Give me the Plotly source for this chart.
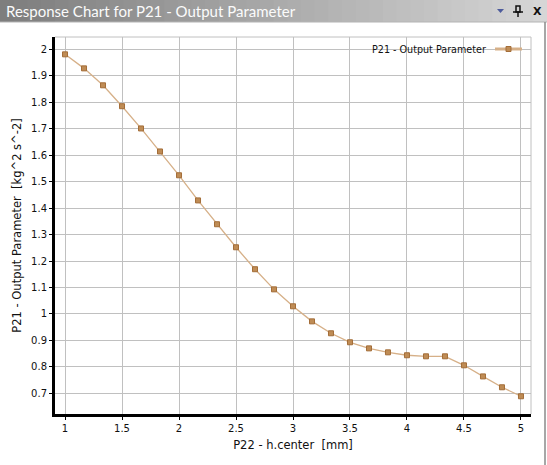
"""Response chart for P21 - Output Parameter versus P22 - h.center."""

import plotly.graph_objects as go

# ---- data ------------------------------------------------------------------------------------
h_center_mm = [
    1.0, 1.1667, 1.3333, 1.5, 1.6667, 1.8333, 2.0, 2.1667, 2.3333, 2.5,
    2.6667, 2.8333, 3.0, 3.1667, 3.3333, 3.5, 3.6667, 3.8333, 4.0, 4.1667,
    4.3333, 4.5, 4.6667, 4.8333, 5.0,
]
p21_output = [
    1.981, 1.928, 1.864, 1.785, 1.701, 1.614, 1.524, 1.429, 1.339, 1.252,
    1.169, 1.093, 1.029, 0.972, 0.927, 0.893, 0.870, 0.855, 0.844, 0.840,
    0.840, 0.806, 0.764, 0.723, 0.689,
]
x_ticks = [1, 1.5, 2, 2.5, 3, 3.5, 4, 4.5, 5]
x_tick_text = ["1", "1.5", "2", "2.5", "3", "3.5", "4", "4.5", "5"]
y_ticks = [0.7, 0.8, 0.9, 1.0, 1.1, 1.2, 1.3, 1.4, 1.5, 1.6, 1.7, 1.8, 1.9, 2.0]
y_tick_text = ["0.7", "0.8", "0.9", "1", "1.1", "1.2", "1.3", "1.4", "1.5",
               "1.6", "1.7", "1.8", "1.9", "2"]

series_name = "P21 - Output Parameter"
window_title = "Response Chart for P21 - Output Parameter"

W, H = 547, 465
ML, MR, MT, MB = 55, 16, 37, 51
LINE_COLOR = "#d6b088"
MARKER_FILL = "#bf8c55"
MARKER_EDGE = "#a36d38"
FONT = "DejaVu Sans"


def px(x):
    """Pixel x -> paper x."""
    return (x - ML) / (W - ML - MR)


def py(y):
    """Pixel y (from top) -> paper y."""
    return (H - MB - y) / (H - MT - MB)


fig = go.Figure()

fig.add_trace(
    go.Scatter(
        x=h_center_mm,
        y=p21_output,
        mode="lines+markers",
        name=series_name,
        line=dict(color=LINE_COLOR, width=1.3),
        marker=dict(symbol="square", size=5, color=MARKER_FILL,
                    line=dict(color=MARKER_EDGE, width=1)),
        showlegend=False,
    )
)

shapes = []

# title bar gradient
n_steps = 40
c0, c1 = (0x7e, 0x7e, 0x7e), (0xd6, 0xd6, 0xd6)
for i in range(n_steps):
    t = i / (n_steps - 1)
    col = tuple(int(a + (b - a) * t) for a, b in zip(c0, c1))
    shapes.append(dict(
        type="rect", xref="paper", yref="paper", layer="below",
        x0=px(W * i / n_steps), x1=px(W * (i + 1) / n_steps + 1),
        y0=py(22), y1=py(0),
        fillcolor="rgb(%d,%d,%d)" % col, line=dict(width=0),
    ))
shapes.append(dict(type="line", xref="paper", yref="paper",
                   x0=px(0), x1=px(W), y0=py(22), y1=py(22),
                   line=dict(color="#b4b4b4", width=1)))
# right panel edge
shapes.append(dict(type="line", xref="paper", yref="paper",
                   x0=px(545), x1=px(545), y0=py(22), y1=py(H),
                   line=dict(color="#8a8a8a", width=1.5)))
# gray top / right frame of the plot box
shapes.append(dict(type="line", xref="paper", yref="paper",
                   x0=0, x1=1, y0=1, y1=1, line=dict(color="#c0c0c0", width=1)))
shapes.append(dict(type="line", xref="paper", yref="paper",
                   x0=1, x1=1, y0=0, y1=1, line=dict(color="#c0c0c0", width=1)))
# legend sample line + marker
shapes.append(dict(type="line", xref="paper", yref="paper",
                   x0=px(495), x1=px(522), y0=py(49), y1=py(49),
                   line=dict(color=LINE_COLOR, width=3)))
shapes.append(dict(type="rect", xref="paper", yref="paper",
                   x0=px(506), x1=px(511), y0=py(51.5), y1=py(46.5),
                   fillcolor=MARKER_FILL, line=dict(color=MARKER_EDGE, width=1)))
# pin icon in title bar
shapes.append(dict(type="rect", xref="paper", yref="paper",
                   x0=px(516), x1=px(520), y0=py(12), y1=py(6),
                   fillcolor="rgba(0,0,0,0)", line=dict(color="#111111", width=1.5)))
shapes.append(dict(type="line", xref="paper", yref="paper",
                   x0=px(513), x1=px(523), y0=py(12), y1=py(12),
                   line=dict(color="#111111", width=1.5)))
shapes.append(dict(type="line", xref="paper", yref="paper",
                   x0=px(518), x1=px(518), y0=py(12), y1=py(17),
                   line=dict(color="#111111", width=1.5)))
# drop-down triangle
shapes.append(dict(type="path", xref="paper", yref="paper",
                   path="M %f,%f L %f,%f L %f,%f Z" % (
                       px(497), py(9), px(504), py(9), px(500.5), py(13)),
                   fillcolor="#4d5b9c", line=dict(width=0)))

annotations = [
    dict(text=window_title, xref="paper", yref="paper", x=px(4), y=py(11),
         xanchor="left", yanchor="middle", showarrow=False,
         font=dict(family="Lato", size=15, color="#fbfbfb")),
    dict(text="<b>X</b>", xref="paper", yref="paper", x=px(537), y=py(11),
         xanchor="center", yanchor="middle", showarrow=False,
         font=dict(family=FONT, size=11, color="#111111")),
    dict(text=series_name, xref="paper", yref="paper", x=px(488), y=py(49),
         xanchor="right", yanchor="middle", showarrow=False,
         font=dict(family=FONT, size=9.6, color="#111111")),
]

fig.update_layout(
    width=W,
    height=H,
    margin=dict(l=ML, r=MR, t=MT, b=MB, pad=0),
    paper_bgcolor="white",
    plot_bgcolor="white",
    font=dict(family=FONT, size=10, color="#111111"),
    showlegend=False,
    shapes=shapes,
    annotations=annotations,
)
fig.update_xaxes(
    range=[0.912, 5.088],
    tickvals=x_ticks,
    ticktext=x_tick_text,
    showgrid=True,
    gridcolor="#c0c0c0",
    gridwidth=1,
    zeroline=False,
    showline=True,
    linecolor="black",
    linewidth=3,
    ticks="outside",
    ticklen=3,
    tickcolor="black",
    tickfont=dict(size=10),
    title=dict(text="P22 - h.center  [mm]", font=dict(size=11.5), standoff=8),
)
fig.update_yaxes(
    range=[0.622, 2.0465],
    tickvals=y_ticks,
    ticktext=y_tick_text,
    showgrid=True,
    gridcolor="#c0c0c0",
    gridwidth=1,
    zeroline=False,
    showline=True,
    linecolor="black",
    linewidth=3,
    ticks="outside",
    ticklen=3,
    tickcolor="black",
    tickfont=dict(size=10),
    title=dict(text="P21 - Output Parameter  [kg^2 s^-2]", font=dict(size=11.5),
               standoff=8),
)

# page has a default 8px body margin; drop it so the chart sits at the window corner
fig.write_html(
    "out.html",
    config={"displayModeBar": False},
    post_script="document.body.style.margin='0';",
)
